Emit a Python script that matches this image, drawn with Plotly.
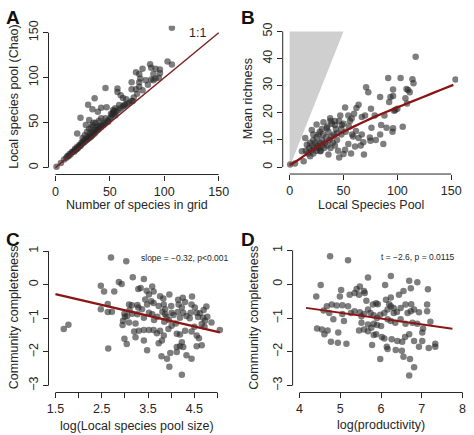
import plotly.graph_objects as go

W, H = 474, 435

# ---------------- Panel A: number of species in grid vs Chao pool ----------------
a_x = [107, 103, 107, 87, 88, 80, 92, 96, 74, 77, 96, 90, 78, 83, 88, 92, 70, 77, 46, 57,
       57, 70, 74, 77, 60, 62, 65, 36, 71, 30, 42, 47, 58.5, 63, 54, 55, 34, 39, 51, 53,
       23, 31, 42, 46, 48.5, 28, 34, 39, 20,
       1, 5, 8, 10, 11, 12, 13, 14, 15, 16, 17, 18, 18, 19, 20, 20, 21, 22, 22, 23,
       24, 24, 25, 26, 26, 27, 28, 28, 29, 30, 30, 31, 32, 32, 33, 34, 34, 35, 36, 36,
       37, 38, 38, 39, 40, 41, 42, 43, 44, 45, 46, 48, 50, 51, 52, 53, 54, 55, 56, 58,
       60, 62, 64, 66, 68, 70, 72, 75, 80, 85, 90, 95, 25, 27, 29, 31, 33, 35, 37, 40]
a_y = [155.5, 118, 114.5, 115, 111, 110, 110, 109, 106, 104, 105, 104, 99, 97, 98, 99, 95, 95, 88.5, 88,
       84, 87, 87, 90, 80.5, 77.5, 76, 77, 74, 70, 66.5, 67, 69.5, 69, 63, 66, 65, 62, 60, 64,
       55.5, 53, 55, 55, 51, 47.5, 47.5, 46, 38,
       1, 5, 9, 11, 13, 12.5, 15, 14.5, 17, 18, 17.5, 21, 19, 20, 23, 21, 22, 25, 24, 24,
       28, 26, 27, 30, 28, 29, 32, 30, 31, 35, 32, 33, 38, 34, 35, 40, 36, 38, 42, 38,
       40, 45, 41, 42, 43, 46, 45, 48, 47, 50, 49, 52, 54, 56, 59, 61, 60, 58, 62, 64,
       66, 68, 70, 71, 72, 74, 78, 82, 86, 92, 97, 100, 33, 36, 40, 43, 45, 50, 50, 52]
a_line_x = [0, 150]
a_line_y = [0, 150]

# ---------------- Panel B: local species pool vs mean richness ----------------
b_x = [117, 154, 91.5, 103, 114, 115, 108.5, 110, 71, 73, 84, 93.6, 96, 96, 111.5, 107.5, 109, 92.4, 98, 51.5,
       64, 62, 75.5, 59.8, 54.5, 47, 70, 79, 88, 37.6, 31.4, 25, 42, 48.4, 57.6, 67, 76, 85, 90, 96,
       105, 95.5, 87, 69, 61.6, 59, 64, 67, 74.5, 75, 68.4, 60.7, 54.5, 51.5, 50, 45, 36, 28.3, 19, 13,
       5, 0.5, 11.4, 16, 14.5, 20.6, 22, 28, 34.5, 39, 44, 48,
       15, 17, 18, 19, 20, 21, 22, 22, 23, 24, 25, 25, 26, 27, 27, 28, 29, 30, 30, 31,
       32, 33, 34, 35, 36, 37, 38, 39, 40, 41, 42, 43, 44, 46, 48, 50, 52, 55, 38, 35,
       30, 42, 97, 100, 56, 58, 84, 80, 66, 57, 46]
b_y = [40.7, 32.3, 32.8, 32.8, 32.4, 30.9, 28.8, 28.4, 29.4, 27.6, 25.8, 25.8, 26.2, 28.6, 27.6, 25.4, 23.4, 24, 21, 22,
       23, 21.8, 21.5, 19.7, 19, 19, 19, 19, 19, 18, 16.5, 15.7, 15.5, 15.5, 17.9, 18.5, 14.5, 15.5, 14.5, 14.3,
       14.9, 13, 8.5, 4.6, 13.3, 11.3, 10.7, 12, 10.9, 9.7, 9.2, 7.6, 8.5, 6.4, 4.8, 6, 4.6, 5.8, 4, 2.2,
       1.3, 1, 5.8, 8.2, 10.7, 13.7, 12, 13, 14.3, 11.3, 12.5, 14,
       6, 5, 7, 9, 6, 8, 5, 10, 7, 9, 6, 11, 8, 7, 12, 9, 6, 10, 8, 12,
       7, 9, 11, 8, 13, 10, 7, 16, 9, 12, 8, 14, 10, 17, 12, 16, 13, 15, 17, 15,
       14, 17, 20.8, 21.5, 17, 12, 12, 10, 8, 5, 3.5]
b_fit_x = [0, 5, 10, 20, 30, 40, 50, 60, 70, 80, 90, 100, 110, 120, 130, 140, 152]
b_fit_y = [0.8, 1.9, 3.2, 6.0, 8.5, 10.8, 13.0, 15.0, 16.9, 18.7, 20.4, 22.0, 23.6, 25.2, 26.8, 28.4, 30.3]
b_tri_x = [0, 0, 50, 0]
b_tri_y = [0, 50, 50, 0]

# ---------------- Panel C: log(pool size) vs community completeness ----------------
c_x = [2.70, 3.03, 1.68, 1.78, 2.48, 2.55, 2.77, 2.87, 2.93, 3.17, 3.41, 3.29, 3.34, 3.47, 3.59, 3.62, 3.52, 3.76, 3.96, 3.44,
       3.57, 3.83, 4.25, 4.30, 2.63, 2.48, 2.63, 2.72, 3.09, 3.15, 3.27, 3.29, 3.37, 3.48, 3.62, 3.73, 3.84, 3.87, 4.00, 4.16,
       4.23, 4.44, 4.51, 4.76, 2.99, 3.05, 3.16, 3.27, 3.41, 3.52, 3.59, 3.81, 3.87, 4.01, 4.14, 4.26, 4.42, 4.55, 4.19, 4.33,
       4.58, 4.69, 4.73, 2.96, 3.09, 3.23, 4.66, 4.87, 5.05, 2.99, 3.04, 2.64, 3.20, 3.30, 3.41, 3.52, 3.62, 3.69, 3.76, 3.84,
       3.94, 4.01, 4.12, 4.19, 4.30, 4.44, 4.55, 4.60, 4.66, 4.55, 3.23, 3.41, 3.48, 3.73, 3.80, 3.79, 3.91, 3.98, 4.12, 4.23,
       4.19, 4.26, 4.33, 4.44, 3.96, 4.23, 4.12,
       3.90, 3.95, 4.05, 4.10, 3.85, 4.40, 4.62, 4.70, 4.78, 3.70, 3.63, 3.00, 3.10, 2.95, 4.15, 4.45, 4.72, 4.50]
c_y = [0.81, 0.70, -1.32, -1.19, -0.03, -0.20, -0.20, 0.08, 0.02, 0.22, 0.17, -0.13, -0.10, -0.18, -0.05, -0.20, -0.29, -0.34, -0.29, -0.44,
       -0.49, -0.41, -0.39, -0.51, -0.57, -0.73, -0.81, -0.80, -0.59, -0.61, -0.60, -0.68, -0.73, -0.59, -0.54, -0.63, -0.59, -0.73, -0.63, -0.59,
       -0.68, -0.59, -0.68, -0.65, -0.86, -0.93, -0.86, -0.88, -0.98, -0.83, -0.88, -0.80, -0.88, -0.83, -0.81, -0.83, -0.83, -0.83, -0.98, -0.93,
       -0.96, -0.98, -1.07, -1.07, -1.12, -1.15, -1.17, -1.12, -1.35, -1.61, -1.76, -1.90, -1.39, -1.37, -1.35, -1.35, -1.35, -1.44, -1.37, -1.51,
       -1.32, -1.22, -1.46, -1.48, -1.37, -1.39, -1.51, -1.59, -1.80, -1.83, -1.56, -1.66, -1.95, -1.74, -1.66, -2.13, -2.20, -2.03, -2.00, -1.71,
       -1.83, -1.85, -2.10, -2.20, -2.44, -2.68, -1.85,
       -0.95, -1.05, -0.90, -1.15, -1.10, -1.00, -0.85, -0.75, -0.95, -0.95, -1.05, -0.95, -0.75, -1.20, -0.45, -0.35, -1.25, -1.25]
c_fit_x = [1.5, 5.05]
c_fit_y = [-0.28, -1.416]

# ---------------- Panel D: log(productivity) vs community completeness ----------------
d_x = [4.75, 5.19, 4.52, 4.41, 5.02, 4.99, 5.68, 6.24, 6.10, 5.40, 5.48, 5.58, 5.60, 5.46, 5.35, 5.23, 6.69, 6.89, 6.55, 6.73,
       7.15, 6.44, 6.24, 6.12, 5.88, 5.80, 5.92, 5.64, 5.05, 4.91, 4.79, 4.67, 4.59, 5.19, 5.26, 5.35, 5.48, 5.52, 5.58, 5.68,
       5.74, 5.82, 5.90, 5.98, 6.08, 6.16, 6.20, 6.24, 6.31, 6.31, 6.39, 6.48, 6.60, 6.65, 6.73, 6.81, 6.93, 7.13, 7.13, 6.74,
       7.21, 4.73, 4.83, 5.05, 5.09, 5.52, 5.68, 5.76, 5.82, 5.90, 6.00, 6.16, 6.24, 6.35, 6.48, 6.60, 6.77, 6.89, 7.03, 7.01,
       4.43, 4.55, 4.69, 4.61, 4.95, 4.77, 4.94, 5.15, 5.46, 5.58, 5.68, 5.82, 5.88, 6.02, 6.08, 5.78, 6.14, 6.16, 6.36, 6.26,
       6.40, 6.52, 6.59, 6.69, 6.81, 6.93, 7.01, 7.17, 7.33, 7.33, 5.98, 6.55, 6.71, 6.81, 6.69, 6.51]
d_y = [0.83, 0.71, -0.02, -0.36, -0.17, -0.36, 0.20, 0.24, -0.02, -0.14, -0.07, -0.20, -0.26, -0.31, -0.26, -0.31, 0.10, 0.06, -0.20, -0.12,
       -0.15, -0.31, -0.39, -0.46, -0.56, -0.60, -0.59, -0.49, -0.62, -0.63, -0.60, -0.65, -0.78, -0.65, -0.85, -0.80, -0.83, -0.95, -0.88, -0.75,
       -0.85, -0.92, -1.00, -0.90, -0.85, -0.75, -0.59, -0.65, -0.70, -0.85, -0.82, -0.70, -0.60, -0.85, -0.80, -0.75, -0.83, -0.60, -0.80, -0.59,
       -1.11, -0.85, -1.04, -0.88, -1.09, -1.14, -1.19, -1.29, -1.17, -1.21, -1.24, -1.04, -1.09, -1.14, -1.04, -1.17, -1.14, -1.17, -1.31, -1.43,
       -1.31, -1.34, -1.37, -1.48, -1.43, -1.70, -1.73, -1.76, -1.37, -1.34, -1.39, -1.50, -1.48, -1.56, -1.61, -1.80, -1.85, -1.92, -1.95, -1.63,
       -1.68, -1.70, -1.56, -1.48, -1.68, -1.85, -1.68, -1.89, -1.85, -1.76, -2.21, -2.15, -2.21, -2.46, -2.70, -1.97]
d_fit_x = [4.16, 7.75]
d_fit_y = [-0.70, -1.32]

# ---------------- tick definitions ----------------
a_ticks = [0, 50, 100, 150]
b_xticks = [0, 50, 100, 150]
b_yticks = [0, 10, 20, 30, 40, 50]
c_xticks = [1.5, 2, 2.5, 3, 3.5, 4, 4.5, 5]
c_xlabels = ["1.5", "", "2.5", "", "3.5", "", "4.5", ""]
cd_yticks = [-3, -2, -1, 0, 1]
cd_ylabels = ["\u22123", "\u22122", "\u22121", "0", "1"]
d_xticks = [4, 5, 6, 7, 8]

FONT = "Liberation Sans, Arial, Helvetica, sans-serif"
TXT = "#262626"
PT = "rgba(40,40,40,0.6)"
RED = "#8b1414"

# pixel anchors of the first/last tick of each axis (layout only)
PAD = 7


def xaxis_layout(v0, v1, p0, p1, tickvals, ticktext=None):
    s = (p1 - p0) / (v1 - v0)
    return dict(range=[v0 - PAD / s, v1 + PAD / s], domain=[(p0 - PAD) / W, (p1 + PAD) / W],
                tickvals=tickvals, ticktext=ticktext if ticktext else [str(t) for t in tickvals])


def yaxis_layout(v0, v1, p0, p1, tickvals, ticktext=None):
    s = (p0 - p1) / (v1 - v0)
    return dict(range=[v0 - PAD / s, v1 + PAD / s], domain=[1 - (p0 + PAD) / H, 1 - (p1 - PAD) / H],
                tickvals=tickvals, ticktext=ticktext if ticktext else [str(t) for t in tickvals])


common = dict(showline=False, showgrid=False, zeroline=False, ticks="outside", ticklen=5,
              tickwidth=1, tickcolor=TXT, tickfont=dict(family=FONT, size=12.5, color=TXT),
              fixedrange=True)

fig = go.Figure()

# Panel B triangle (below points)
fig.add_trace(go.Scatter(x=b_tri_x, y=b_tri_y, fill="toself", fillcolor="#cfcfcf",
                         line=dict(width=0, color="#cfcfcf"), mode="lines", xaxis="x2", yaxis="y2",
                         hoverinfo="skip"))

mk = dict(size=6.5, color=PT, line=dict(width=0))
fig.add_trace(go.Scatter(x=a_x, y=a_y, mode="markers", marker=mk, xaxis="x", yaxis="y"))
fig.add_trace(go.Scatter(x=a_line_x, y=a_line_y, mode="lines", line=dict(color="#7a2222", width=1.4),
                         xaxis="x", yaxis="y"))
fig.add_trace(go.Scatter(x=b_x, y=b_y, mode="markers", marker=mk, xaxis="x2", yaxis="y2"))
fig.add_trace(go.Scatter(x=b_fit_x, y=b_fit_y, mode="lines", line=dict(color=RED, width=2.3, shape="spline"),
                         xaxis="x2", yaxis="y2"))
fig.add_trace(go.Scatter(x=c_x, y=c_y, mode="markers", marker=mk, xaxis="x3", yaxis="y3"))
fig.add_trace(go.Scatter(x=c_fit_x, y=c_fit_y, mode="lines", line=dict(color=RED, width=2.3),
                         xaxis="x3", yaxis="y3"))
fig.add_trace(go.Scatter(x=d_x, y=d_y, mode="markers", marker=mk, xaxis="x4", yaxis="y4"))
fig.add_trace(go.Scatter(x=d_fit_x, y=d_fit_y, mode="lines", line=dict(color=RED, width=2.0),
                         xaxis="x4", yaxis="y4"))

ax = {}
ax["xaxis"] = dict(**xaxis_layout(0, 150, 54, 219, a_ticks), anchor="y", **common)
ax["yaxis"] = dict(**yaxis_layout(0, 150, 164.5, 28, a_ticks), anchor="x", tickangle=-90, **common)
ax["xaxis2"] = dict(**xaxis_layout(0, 150, 290.7, 454, b_xticks), anchor="y2", **common)
ax["yaxis2"] = dict(**yaxis_layout(0, 50, 164, 26.7, b_yticks), anchor="x2", tickangle=-90, **common)
ax["xaxis3"] = dict(**xaxis_layout(1.5, 5, 54, 217.8, c_xticks, c_xlabels), anchor="y3", **common)
ax["yaxis3"] = dict(**yaxis_layout(-3, 1, 385, 249, cd_yticks, cd_ylabels), anchor="x3", tickangle=-90, **common)
ax["xaxis4"] = dict(**xaxis_layout(4, 8, 300.7, 465.5, d_xticks), anchor="y4", **common)
ax["yaxis4"] = dict(**yaxis_layout(-3, 1, 385, 248.3, cd_yticks, cd_ylabels), anchor="x4", tickangle=-90, **common)

# axis lines spanning first to last tick (R style)
shapes = []
for xa, ya, xt, yt in [("x", "y", a_ticks, a_ticks), ("x2", "y2", b_xticks, b_yticks),
                       ("x3", "y3", c_xticks, cd_yticks), ("x4", "y4", d_xticks, cd_yticks)]:
    shapes.append(dict(type="line", xref=xa, yref=ya + " domain", x0=xt[0], x1=xt[-1], y0=0, y1=0,
                       line=dict(color=TXT, width=1)))
    shapes.append(dict(type="line", xref=xa + " domain", yref=ya, x0=0, x1=0, y0=yt[0], y1=yt[-1],
                       line=dict(color=TXT, width=1)))


def pp(px, py):
    return px / W, 1 - py / H


annots = []


def title(text, px, py, angle=0, size=12.5):
    x, y = pp(px, py)
    annots.append(dict(text=text, x=x, y=y, xref="paper", yref="paper", showarrow=False,
                       textangle=angle, xanchor="center", yanchor="middle",
                       font=dict(family=FONT, size=size, color=TXT)))


title("Number of species in grid", 136.5, 202)
title("Local species pool (Chao)", 12, 92, -90)
title("Local Species Pool", 372.5, 202)
title("Mean richness", 249, 95, -90)
title("log(Local species pool size)", 136, 425.5)
title("Community completeness", 12, 316, -90)
title("log(productivity)", 383, 425)
title("Community completeness", 255, 316, -90)

for lab, px, py in [("A", 11, 13), ("B", 249, 13), ("C", 11, 237), ("D", 249, 237)]:
    x, y = pp(px, py)
    annots.append(dict(text="<b>" + lab + "</b>", x=x, y=y, xref="paper", yref="paper", showarrow=False,
                       xanchor="center", yanchor="middle",
                       font=dict(family="Liberation Sans Narrow, Liberation Sans, Arial", size=19, color="#111")))

annots.append(dict(text="1:1", x=130.5, y=150, xref="x", yref="y", showarrow=False,
                   font=dict(family=FONT, size=12.5, color=TXT)))
annots.append(dict(text="slope = \u22120.32, p<0.001", x=4.28, y=0.80, xref="x3", yref="y3", showarrow=False,
                   font=dict(family=FONT, size=8.5, color=TXT)))
annots.append(dict(text="t = \u22122.6, p = 0.0115", x=6.91, y=0.82, xref="x4", yref="y4", showarrow=False,
                   font=dict(family=FONT, size=8.5, color=TXT)))

fig.update_layout(width=W, height=H, margin=dict(l=0, r=0, t=0, b=0), showlegend=False,
                  paper_bgcolor="white", plot_bgcolor="white", shapes=shapes, annotations=annots,
                  hovermode=False, **ax)

fig.write_html("out.html", config={"displayModeBar": False},
               post_script="document.body.style.margin='0';document.body.style.overflow='hidden';")
